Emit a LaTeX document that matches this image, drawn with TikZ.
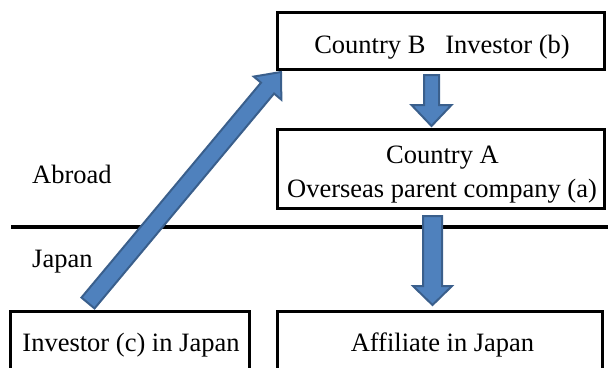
\documentclass[tikz,border=0pt]{standalone}
\usepackage{fontspec}
\setmainfont{Liberation Serif}
\usetikzlibrary{calc}
\definecolor{arrfill}{HTML}{4F81BD}
\definecolor{arrdraw}{HTML}{3A5F8C}
\tikzset{
  box/.style={draw=black, line width=3pt, inner sep=0pt},
  lbl/.style={inner sep=0pt, anchor=base, font=\fontsize{26.5}{34}\selectfont},
  blockarrow/.style={fill=arrfill, draw=arrdraw, line width=2pt, line join=miter},
  divider/.style={line width=4pt}
}
\newcommand{\fatarrow}[5]{%
  \coordinate (hb) at ($(#2)!#5!(#1)$);
  \draw[blockarrow] ($(#1)!#3!90:(#2)$) -- ($(hb)!#3!-90:(#1)$) -- ($(hb)!#4!-90:(#1)$) -- (#2) -- ($(hb)!#4!90:(#1)$) -- ($(hb)!#3!90:(#1)$) -- ($(#1)!#3!-90:(#2)$) -- cycle;
}
\begin{document}
\begin{tikzpicture}[x=1pt,y=-1pt]
\useasboundingbox (0,0) rectangle (608,367);
\clip (0,0) rectangle (608,367);
\node[box, minimum width=327pt, minimum height=57pt] (B) at (440.5,40.5) {};
\node[box, minimum width=327pt, minimum height=79pt] (A) at (440.5,169) {};
\node[box, minimum width=239pt, minimum height=80pt] (C) at (129.5,351) {};
\node[box, minimum width=325pt, minimum height=80pt] (D) at (439.5,351) {};
\node[lbl] (tB) at (442,53) {Country B\hspace{0.75em}Investor (b)};
\node[lbl] (tA1) at (442.5,163) {Country A};
\node[lbl] (tA2) at (442,197) {Overseas parent company (a)};
\node[lbl] (tC) at (131,351) {Investor (c) in Japan};
\node[lbl] (tD) at (442.5,351) {Affiliate in Japan};
\coordinate (L1) at (11,227);
\coordinate (L2) at (610,227);
\draw[divider] (L1) -- (L2);
\node[lbl, anchor=base west] (ab) at (32,183) {Abroad};
\node[lbl, anchor=base west] (jp) at (32,267) {Japan};
% arrows
\coordinate (s1) at (431.5,75);
\coordinate (t1) at (431.5,126);
\fatarrow{s1}{t1}{7.5pt}{20pt}{21pt}
\coordinate (s2) at (432.5,216);
\coordinate (t2) at (432.5,305);
\fatarrow{s2}{t2}{9.5pt}{19.5pt}{19pt}
\coordinate (s3) at (88,303);
\coordinate (t3) at (281,72);
\fatarrow{s3}{t3}{8.5pt}{18pt}{21pt}
\end{tikzpicture}
\end{document}
